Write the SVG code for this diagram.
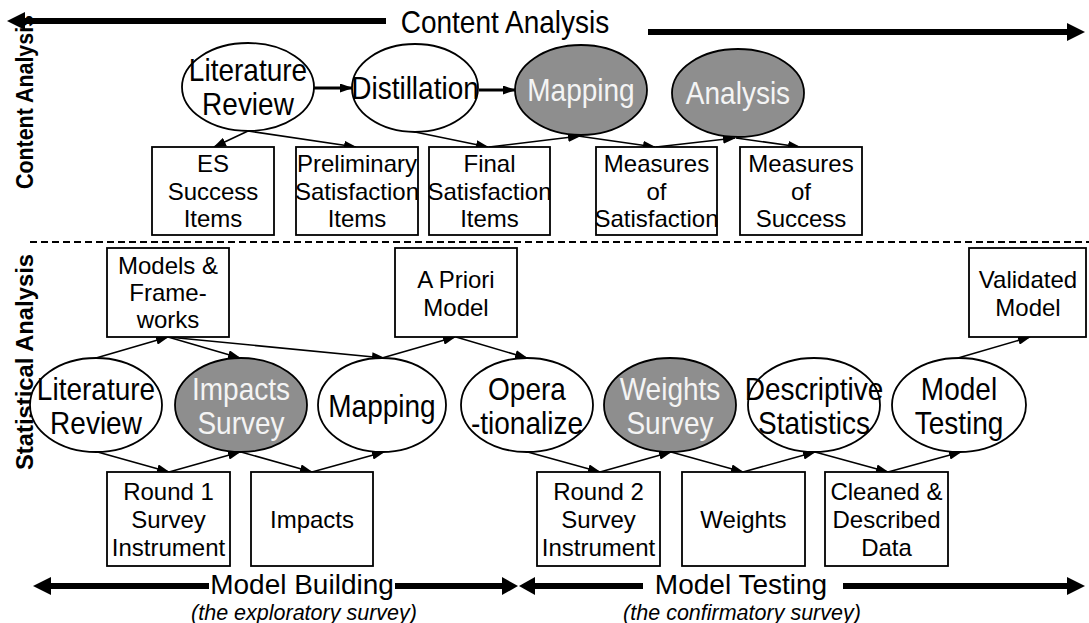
<svg xmlns="http://www.w3.org/2000/svg" width="1089" height="623" viewBox="0 0 1089 623">
  <style>
    .bg { fill: #ffffff; }
    .proc { fill: #ffffff; stroke: #000000; stroke-width: 1.8; }
    .proc.dark { fill: #8e8e8e; }
    .box { fill: #ffffff; stroke: #000000; stroke-width: 1.8; }
    .t { font-family: "Liberation Sans", Arial, sans-serif; fill: #000000; text-anchor: middle; }
    /* tall lettering for process and title labels */
    .tall { transform-box: fill-box; transform-origin: center; transform: scaleY(1.14); }
    .el { font-size: 28px; }
    .el.light { fill: #f4f4f4; }
    .bx { font-size: 24px; }
    .side { font-size: 23px; font-weight: bold; }
    .phase { font-size: 28px; }
    .note { font-size: 21.5px; font-style: italic; }
    .link { fill: none; stroke: #000000; stroke-width: 1.6; marker-end: url(#tip); }
    .link.bold { stroke-width: 2.8; }
    .band { fill: #000000; }
    .divider { stroke: #000000; stroke-width: 2; stroke-dasharray: 7 4; }
  </style>
  <defs>
    <marker id="tip" markerUnits="userSpaceOnUse" markerWidth="13" markerHeight="9" refX="12" refY="4.5" orient="auto">
      <path d="M0,0 L13,4.5 L0,9 z" fill="#000000"/>
    </marker>
  </defs>

  <rect class="bg" x="0" y="0" width="1089" height="623"/>

  <!-- Phase band: content analysis -->
  <g id="content-band">
    <rect class="band" x="20" y="18" width="366" height="6"/>
    <polygon class="band" points="7,21 25,12 25,30"/>
    <text class="t phase tall" x="505" y="32">Content Analysis</text>
    <rect class="band" x="648" y="29" width="422" height="6"/>
    <polygon class="band" points="1085,32 1067,23 1067,41"/>
  </g>

  <!-- Side labels -->
  <text class="t side" transform="translate(33,102) rotate(-90)" textLength="174" lengthAdjust="spacingAndGlyphs">Content Analysis</text>
  <text class="t side" transform="translate(33,362) rotate(-90)" textLength="216" lengthAdjust="spacingAndGlyphs">Statistical Analysis</text>

  <!-- Section divider -->
  <line class="divider" x1="30" y1="242" x2="1089" y2="242"/>

  <!-- Connectors -->
  <g id="connectors">
    <!-- content analysis flow -->
    <line class="link bold" x1="314" y1="88" x2="352" y2="88"/>
    <line class="link bold" x1="479" y1="90" x2="515" y2="90"/>
    <line class="link" x1="248" y1="131" x2="214" y2="147"/>
    <line class="link" x1="248" y1="131" x2="356" y2="147"/>
    <line class="link" x1="415" y1="132" x2="488" y2="147"/>
    <line class="link" x1="489" y1="147" x2="580" y2="136"/>
    <line class="link" x1="578" y1="136" x2="655" y2="147"/>
    <line class="link" x1="656" y1="147" x2="735" y2="138"/>
    <line class="link" x1="736" y1="138" x2="800" y2="147"/>
    <!-- model building -->
    <line class="link" x1="96" y1="358" x2="168" y2="337"/>
    <line class="link" x1="168" y1="337" x2="240" y2="358"/>
    <line class="link" x1="168" y1="337" x2="384" y2="358"/>
    <line class="link" x1="382" y1="358" x2="455" y2="337"/>
    <line class="link" x1="456" y1="337" x2="527" y2="358"/>
    <line class="link" x1="94" y1="451" x2="169" y2="472"/>
    <line class="link" x1="169" y1="472" x2="240" y2="452"/>
    <line class="link" x1="241" y1="452" x2="312" y2="472"/>
    <line class="link" x1="312" y1="472" x2="384" y2="452"/>
    <!-- model testing -->
    <line class="link" x1="524" y1="451" x2="600" y2="472"/>
    <line class="link" x1="600" y1="472" x2="671" y2="452"/>
    <line class="link" x1="671" y1="452" x2="743" y2="472"/>
    <line class="link" x1="743" y1="472" x2="815" y2="452"/>
    <line class="link" x1="815" y1="452" x2="888" y2="472"/>
    <line class="link" x1="888" y1="472" x2="961" y2="452"/>
    <line class="link" x1="958" y1="358" x2="1030" y2="337"/>
  </g>

  <!-- Content analysis processes -->
  <g id="ca-literature-review">
    <ellipse class="proc" cx="248" cy="87" rx="66" ry="44"/>
    <text class="t el tall" x="248" y="80">Literature</text>
    <text class="t el tall" x="248" y="114">Review</text>
  </g>
  <g id="ca-distillation">
    <ellipse class="proc" cx="415" cy="88" rx="63" ry="44"/>
    <text class="t el tall" x="415" y="98">Distillation</text>
  </g>
  <g id="ca-mapping">
    <ellipse class="proc dark" cx="581" cy="90" rx="66" ry="45"/>
    <text class="t el light tall" x="581" y="100">Mapping</text>
  </g>
  <g id="ca-analysis">
    <ellipse class="proc dark" cx="738" cy="93" rx="66" ry="44"/>
    <text class="t el light tall" x="738" y="103">Analysis</text>
  </g>

  <!-- Content analysis products -->
  <g id="es-success-items">
    <rect class="box" x="152" y="147" width="122" height="88"/>
    <text class="t bx" x="213" y="172">ES</text>
    <text class="t bx" x="213" y="199.5">Success</text>
    <text class="t bx" x="213" y="227">Items</text>
  </g>
  <g id="preliminary-items">
    <rect class="box" x="296" y="147" width="122" height="88"/>
    <text class="t bx" x="357" y="172">Preliminary</text>
    <text class="t bx" x="357" y="199.5">Satisfaction</text>
    <text class="t bx" x="357" y="227">Items</text>
  </g>
  <g id="final-items">
    <rect class="box" x="429" y="147" width="121" height="88"/>
    <text class="t bx" x="489.5" y="172">Final</text>
    <text class="t bx" x="489.5" y="199.5">Satisfaction</text>
    <text class="t bx" x="489.5" y="227">Items</text>
  </g>
  <g id="measures-satisfaction">
    <rect class="box" x="596" y="147" width="121" height="88"/>
    <text class="t bx" x="656.5" y="172">Measures</text>
    <text class="t bx" x="656.5" y="199.5">of</text>
    <text class="t bx" x="656.5" y="227">Satisfaction</text>
  </g>
  <g id="measures-success">
    <rect class="box" x="740" y="147" width="122" height="88"/>
    <text class="t bx" x="801" y="172">Measures</text>
    <text class="t bx" x="801" y="199.5">of</text>
    <text class="t bx" x="801" y="227">Success</text>
  </g>

  <!-- Statistical analysis: models -->
  <g id="models-frameworks">
    <rect class="box" x="107" y="248" width="122" height="89"/>
    <text class="t bx" x="168" y="274">Models &amp;</text>
    <text class="t bx" x="168" y="301">Frame-</text>
    <text class="t bx" x="168" y="328">works</text>
  </g>
  <g id="a-priori-model">
    <rect class="box" x="395" y="248" width="122" height="89"/>
    <text class="t bx" x="456" y="288">A Priori</text>
    <text class="t bx" x="456" y="316">Model</text>
  </g>
  <g id="validated-model">
    <rect class="box" x="969" y="248" width="117" height="89"/>
    <text class="t bx" x="1028" y="288">Validated</text>
    <text class="t bx" x="1028" y="316">Model</text>
  </g>

  <!-- Statistical analysis processes -->
  <g id="sa-literature-review">
    <ellipse class="proc" cx="96" cy="405" rx="66" ry="47"/>
    <text class="t el tall" x="96" y="399">Literature</text>
    <text class="t el tall" x="96" y="433">Review</text>
  </g>
  <g id="impacts-survey">
    <ellipse class="proc dark" cx="241" cy="405" rx="66" ry="47"/>
    <text class="t el light tall" x="241" y="399">Impacts</text>
    <text class="t el light tall" x="241" y="433">Survey</text>
  </g>
  <g id="sa-mapping">
    <ellipse class="proc" cx="382" cy="405" rx="64" ry="47"/>
    <text class="t el tall" x="382" y="416">Mapping</text>
  </g>
  <g id="operationalize">
    <ellipse class="proc" cx="527" cy="405" rx="66" ry="47"/>
    <text class="t el tall" x="527" y="399">Opera</text>
    <text class="t el tall" x="527" y="433">-tionalize</text>
  </g>
  <g id="weights-survey">
    <ellipse class="proc dark" cx="670" cy="405" rx="66" ry="47"/>
    <text class="t el light tall" x="670" y="399">Weights</text>
    <text class="t el light tall" x="670" y="433">Survey</text>
  </g>
  <g id="descriptive-statistics">
    <ellipse class="proc" cx="814" cy="405" rx="66" ry="47"/>
    <text class="t el tall" x="814" y="399">Descriptive</text>
    <text class="t el tall" x="814" y="433">Statistics</text>
  </g>
  <g id="model-testing">
    <ellipse class="proc" cx="959" cy="405" rx="67" ry="47"/>
    <text class="t el tall" x="959" y="399">Model</text>
    <text class="t el tall" x="959" y="433">Testing</text>
  </g>

  <!-- Statistical analysis products -->
  <g id="round1-instrument">
    <rect class="box" x="107" y="472" width="123" height="94"/>
    <text class="t bx" x="168.5" y="500">Round 1</text>
    <text class="t bx" x="168.5" y="528">Survey</text>
    <text class="t bx" x="168.5" y="556">Instrument</text>
  </g>
  <g id="impacts">
    <rect class="box" x="251" y="472" width="122" height="94"/>
    <text class="t bx" x="312" y="528">Impacts</text>
  </g>
  <g id="round2-instrument">
    <rect class="box" x="537" y="472" width="123" height="94"/>
    <text class="t bx" x="598.5" y="500">Round 2</text>
    <text class="t bx" x="598.5" y="528">Survey</text>
    <text class="t bx" x="598.5" y="556">Instrument</text>
  </g>
  <g id="weights">
    <rect class="box" x="682" y="472" width="123" height="94"/>
    <text class="t bx" x="743.5" y="528">Weights</text>
  </g>
  <g id="cleaned-data">
    <rect class="box" x="825" y="472" width="123" height="94"/>
    <text class="t bx" x="886.5" y="500">Cleaned &amp;</text>
    <text class="t bx" x="886.5" y="528">Described</text>
    <text class="t bx" x="886.5" y="556">Data</text>
  </g>

  <!-- Phase bands: model building / model testing -->
  <g id="building-band">
    <polygon class="band" points="33,586 51,577 51,595"/>
    <rect class="band" x="49" y="583" width="160" height="6"/>
    <text class="t phase" x="302" y="594">Model Building</text>
    <rect class="band" x="395" y="583" width="109" height="6"/>
    <polygon class="band" points="518,586 502,577 502,595"/>
    <text class="t note" x="304" y="620">(the exploratory survey)</text>
  </g>
  <g id="testing-band">
    <polygon class="band" points="519,586 535,577 535,595"/>
    <rect class="band" x="533" y="583" width="110" height="6"/>
    <text class="t phase" x="741" y="594">Model Testing</text>
    <rect class="band" x="843" y="583" width="227" height="6"/>
    <polygon class="band" points="1085,586 1067,577 1067,595"/>
    <text class="t note" x="742" y="620">(the confirmatory survey)</text>
  </g>
</svg>
